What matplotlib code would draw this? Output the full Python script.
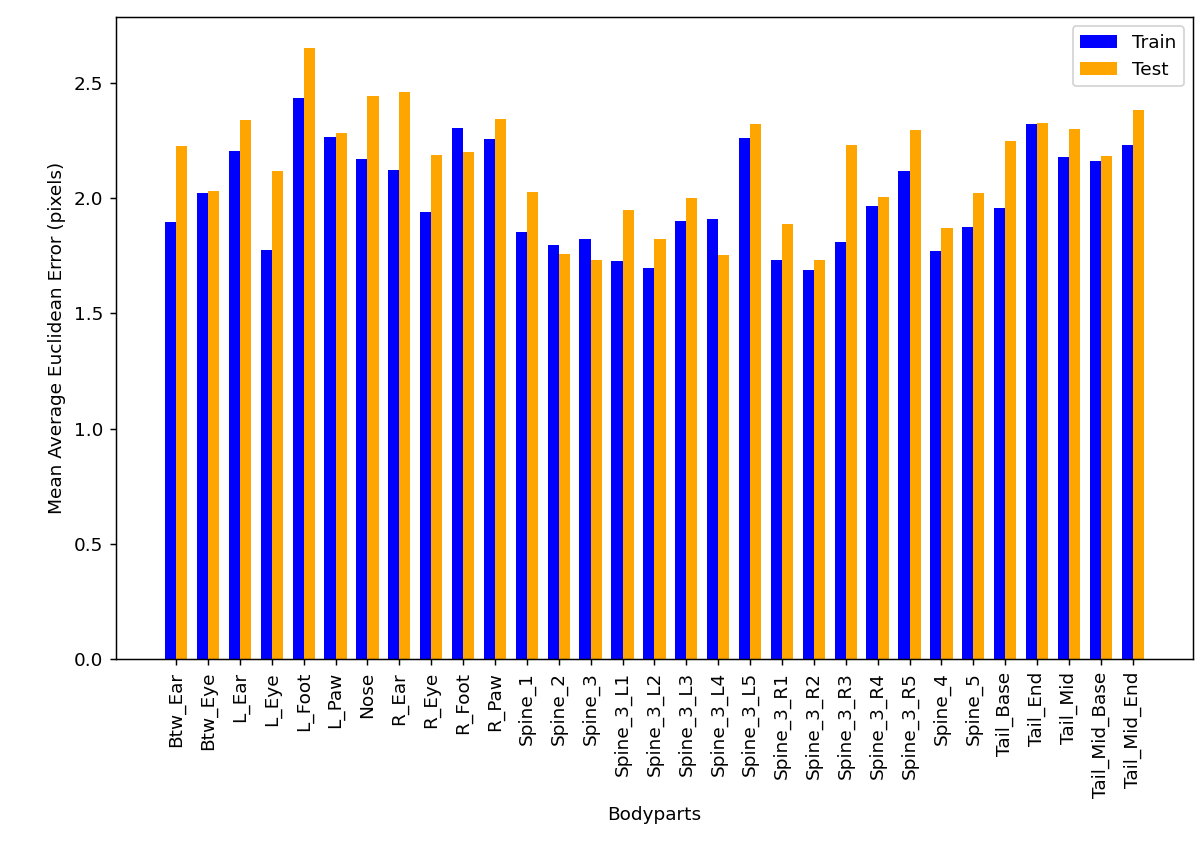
import matplotlib
matplotlib.use("Agg")
import matplotlib.pyplot as plt
import numpy as np

bodyparts = [
    "Btw_Ear", "Btw_Eye", "L_Ear", "L_Eye", "L_Foot", "L_Paw", "Nose",
    "R_Ear", "R_Eye", "R_Foot", "R_Paw", "Spine_1", "Spine_2", "Spine_3",
    "Spine_3_L1", "Spine_3_L2", "Spine_3_L3", "Spine_3_L4", "Spine_3_L5",
    "Spine_3_R1", "Spine_3_R2", "Spine_3_R3", "Spine_3_R4", "Spine_3_R5",
    "Spine_4", "Spine_5", "Tail_Base", "Tail_End", "Tail_Mid",
    "Tail_Mid_Base", "Tail_Mid_End",
]
train_err = [
    1.898, 2.020, 2.206, 1.775, 2.435, 2.264, 2.170,
    2.122, 1.939, 2.303, 2.256, 1.853, 1.797, 1.822,
    1.727, 1.697, 1.902, 1.908, 2.261,
    1.732, 1.687, 1.810, 1.964, 2.115,
    1.768, 1.875, 1.955, 2.321, 2.180,
    2.161, 2.232,
]
test_err = [
    2.227, 2.030, 2.339, 2.118, 2.652, 2.283, 2.441,
    2.462, 2.186, 2.198, 2.344, 2.027, 1.758, 1.730,
    1.949, 1.824, 2.002, 1.752, 2.322,
    1.887, 1.732, 2.228, 2.005, 2.295,
    1.872, 2.020, 2.247, 2.325, 2.300,
    2.182, 2.381,
]

dpi = 133
fig, ax = plt.subplots(figsize=(1200 / dpi, 857 / dpi), dpi=dpi)

x = np.arange(len(bodyparts))
width = 0.35
ax.bar(x - width / 2, train_err, width, color="blue", label="Train")
ax.bar(x + width / 2, test_err, width, color="orange", label="Test")

ax.set_xticks(x)
ax.set_xticklabels(bodyparts, rotation=90)
ax.set_xlabel("Bodyparts")
ax.set_ylabel("Mean Average Euclidean Error (pixels)")
ax.legend(loc="upper right")

fig.subplots_adjust(left=0.0967, right=0.994, top=0.980, bottom=0.231)
fig.savefig("out.png", dpi=dpi)
